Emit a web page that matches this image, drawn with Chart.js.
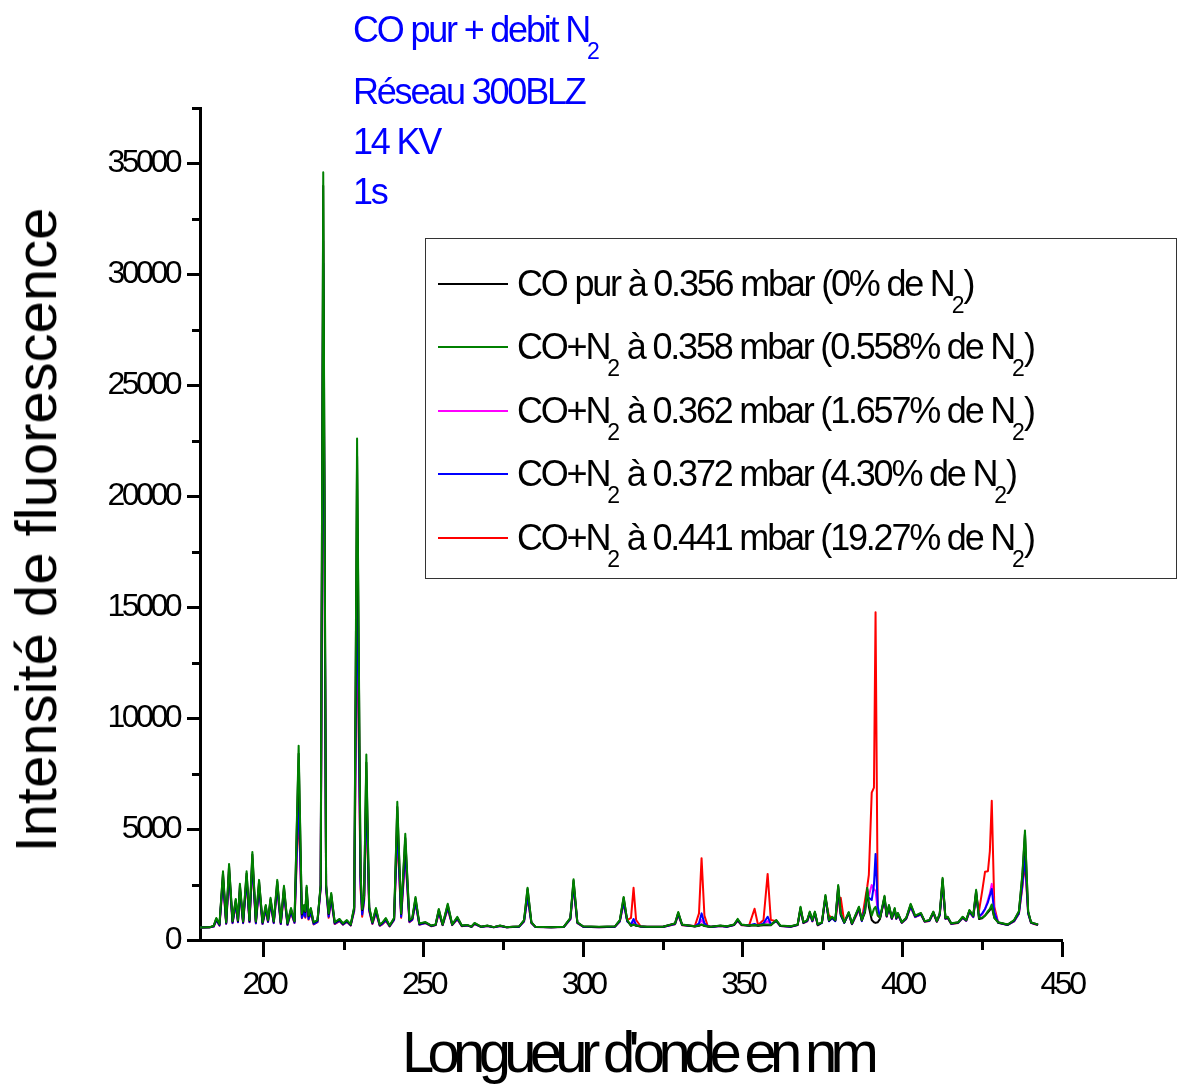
<!DOCTYPE html>
<html>
<head>
<meta charset="utf-8">
<script src="https://cdn.jsdelivr.net/npm/chart.js@4.4.1/dist/chart.umd.min.js"></script>
<style>
  body { margin: 0; background: #fff; }
  #wrap { position: relative; width: 1180px; height: 1086px; overflow: hidden; font-family: "Liberation Sans", Arial, sans-serif; }
  canvas { position: absolute; left: 0; top: 0; }
  .note { position: absolute; left: 353px; color: #0000ff; font-size: 36px; line-height: 36px; letter-spacing: -2.2px; white-space: nowrap; }
  .sub { display: inline-block; font-size: 23px; vertical-align: -17px; letter-spacing: 0; margin-left: -2px; margin-right: -1px; }
  #legend { position: absolute; left: 425px; top: 238px; width: 752px; height: 341px; border: 1.5px solid #333; box-sizing: border-box; }
  .row { position: absolute; left: 0; height: 40px; }
  .row .ln { position: absolute; left: 12px; top: 19px; width: 70px; height: 2px; }
  .row .tx { position: absolute; left: 91px; top: 2px; font-size: 36px; line-height: 36px; letter-spacing: -2.2px; white-space: nowrap; color: #000; }
  #xtitle { position: absolute; left: 402px; top: 1023px; font-size: 58px; line-height: 58px; letter-spacing: -6.7px; white-space: nowrap; }
  #ytitle { position: absolute; left: 36px; top: 530px; font-size: 58px; line-height: 58px; white-space: nowrap; transform: translate(-50%, -50%) rotate(-90deg); }
</style>
</head>
<body>
<div id="wrap">
  <canvas id="chart" width="1180" height="1086"></canvas>
  <div class="note" style="top:12px">CO pur + debit N<span class="sub">2</span></div>
  <div class="note" style="top:74px">Réseau 300BLZ</div>
  <div class="note" style="top:124px">14 KV</div>
  <div class="note" style="top:174px">1s</div>
  <div id="legend"></div>
  <div id="xtitle">Longueur d'onde en nm</div>
  <div id="ytitle">Intensité de fluorescence</div>
</div>
<script>
const wavelengths = [
  180, 183, 184.3, 185.1, 186.1, 187.2, 188.2, 189.1, 190.2, 191.2, 191.9, 192.5, 193.5, 194.6, 195.5, 196.4, 197.5, 198.5, 199.6, 200.6,
  201.3, 202.1, 203.1, 204.2, 205.3, 206.3, 207.4, 208.5, 209.6, 210.9, 211.9, 212.6, 213.0, 213.4, 214.0, 214.7, 215.6, 216.8, 217.8, 218.6,
  219.5, 220.3, 221.1, 222.2, 223.7, 224.8, 226.0, 227.2, 228.3, 229.2, 230.3, 230.8, 231.4, 232.1, 233.0, 234.0, 235.1, 236.3, 237.2, 238.2,
  239.4, 240.8, 241.8, 243.0, 244.3, 245.6, 246.5, 247.5, 248.7, 250.6, 252.5, 253.8, 254.8, 256.0, 257.6, 259.0, 260.6, 262.0, 263.7, 265.0,
  266.0, 268.0, 270.0, 272.0, 274.0, 276.0, 278.0, 280.0, 281.5, 282.6, 283.8, 285.0, 290.0, 294.0, 296.0, 297.0, 298.2, 300.0, 305.0, 310.0,
  311.5, 312.7, 313.8, 315.0, 315.8, 316.6, 318.0, 320.0, 325.0, 328.8, 329.8, 331.0, 335.0, 336.3, 337.1, 338.0, 339.0, 340.0, 343.0, 345.0,
  347.3, 348.4, 349.6, 352.0, 353.7, 354.8, 356.5, 357.8, 358.8, 360.5, 361.8, 365.0, 367.2, 368.1, 369.0, 370.2, 371.0, 371.8, 372.6, 373.5,
  374.8, 375.9, 377.0, 378.0, 379.0, 379.9, 380.7, 381.8, 383.2, 384.2, 386.4, 387.3, 388.3, 389.0, 389.5, 390.4, 391.1, 391.6, 392.3, 393.0,
  394.4, 395.1, 395.8, 396.7, 397.6, 398.1, 398.6, 399.8, 401.2, 402.6, 404.0, 405.8, 407.0, 408.5, 409.7, 410.8, 411.7, 412.6, 413.5, 414.2,
  415.3, 417.5, 418.9, 420.0, 421.0, 422.2, 423.1, 424.0, 425.0, 425.9, 426.8, 427.4, 428.0, 428.8, 430.0, 433.0, 435.0, 436.5, 437.6, 438.4,
  439.4, 440.3, 441.3, 442.5
];

// CO pur à 0.356 mbar (0% de N2)
const coPur = [
  560, 570, 640, 960, 700, 3000, 780, 3330, 820, 1800, 860, 2450, 820, 3000, 860, 3850, 820, 2630, 780, 1530,
  870, 1840, 820, 2630, 780, 2370, 730, 1400, 830, 8400, 1150, 1530, 1260, 2370, 1070, 1400, 780, 870, 2450, 34000,
  2450, 1170, 2060, 780, 920, 730, 870, 680, 1450, 21800, 2900, 1350, 1950, 8000, 1450, 780, 1400, 680, 780, 960,
  640, 970, 6000, 1170, 4600, 870, 970, 1880, 730, 790, 640, 690, 1360, 690, 1580, 690, 1010, 640, 670, 600,
  750, 600, 640, 580, 640, 580, 600, 610, 880, 2300, 790, 600, 580, 600, 980, 2680, 790, 610, 590, 610,
  880, 1900, 880, 640, 690, 640, 610, 600, 600, 740, 1230, 690, 610, 640, 690, 630, 610, 600, 640, 610,
  690, 920, 690, 640, 660, 640, 660, 680, 660, 880, 640, 610, 690, 1450, 780, 880, 1250, 880, 1250, 680,
  780, 1980, 870, 1020, 880, 2420, 1170, 780, 1230, 730, 1470, 880, 1250, 2300, 1500, 900, 800, 770, 800, 950,
  1950, 1080, 1550, 980, 1400, 980, 1200, 790, 980, 1600, 1080, 1200, 840, 890, 1260, 840, 1180, 2750, 980, 1030,
  740, 790, 1030, 890, 1330, 1080, 2200, 950, 980, 1100, 1250, 1350, 1500, 1000, 790, 690, 880, 1270, 2900, 4800,
  1270, 790, 740, 690
];

// CO+N2 à 0.358 mbar (0.558% de N2)
const n2_0558 = [
  560, 570, 640, 990, 720, 3100, 800, 3430, 850, 1850, 900, 2530, 850, 3100, 900, 3970, 850, 2710, 800, 1580,
  900, 1900, 850, 2710, 800, 2440, 750, 1440, 850, 8760, 1200, 1580, 1300, 2440, 1100, 1440, 800, 900, 2500, 34600,
  2500, 1200, 2120, 800, 950, 750, 900, 700, 1500, 22600, 3000, 1400, 2000, 8360, 1500, 800, 1440, 700, 800, 990,
  650, 1000, 6230, 1200, 4790, 900, 1000, 1940, 750, 810, 650, 700, 1400, 700, 1630, 700, 1040, 650, 680, 600,
  770, 600, 650, 580, 650, 580, 600, 620, 900, 2360, 800, 600, 580, 600, 1000, 2740, 800, 620, 600, 620,
  900, 1940, 900, 650, 700, 650, 620, 600, 600, 750, 1260, 700, 620, 650, 700, 640, 620, 600, 650, 620,
  700, 950, 700, 650, 680, 650, 700, 700, 680, 900, 650, 620, 700, 1500, 800, 900, 1280, 900, 1280, 700,
  800, 2030, 900, 1050, 900, 2480, 1200, 800, 1260, 750, 1500, 900, 1300, 2350, 1700, 1100, 1400, 1500, 1100, 1000,
  1990, 1100, 1580, 1000, 1440, 1000, 1220, 800, 1000, 1630, 1100, 1220, 850, 900, 1280, 850, 1200, 2800, 1000, 1050,
  750, 800, 1050, 900, 1350, 1100, 2260, 1000, 1000, 1100, 1300, 1400, 1600, 1000, 800, 700, 900, 1300, 3000, 4940,
  1300, 800, 750, 700
];

// CO+N2 à 0.362 mbar (1.657% de N2)
const n2_1657 = [
  560, 570, 620, 930, 680, 2850, 760, 3150, 800, 1700, 840, 2330, 800, 2850, 840, 3650, 800, 2490, 760, 1450,
  850, 1750, 800, 2490, 760, 2240, 710, 1320, 800, 7000, 1050, 1400, 1150, 2200, 1000, 1300, 750, 850, 2400, 31500,
  2400, 1100, 1950, 760, 900, 720, 850, 670, 1400, 18500, 2700, 1250, 1850, 7000, 1400, 760, 1320, 670, 760, 920,
  630, 950, 5300, 1100, 4200, 850, 950, 1780, 720, 780, 640, 690, 1300, 690, 1500, 690, 980, 640, 670, 600,
  740, 600, 640, 580, 640, 580, 600, 610, 860, 2100, 780, 600, 580, 600, 960, 2550, 780, 610, 590, 610,
  860, 1800, 860, 680, 800, 660, 610, 600, 600, 730, 1200, 690, 620, 700, 900, 700, 620, 600, 640, 610,
  690, 900, 690, 650, 700, 650, 720, 850, 700, 870, 640, 610, 690, 1420, 780, 870, 1220, 870, 1220, 680,
  780, 1950, 870, 1000, 870, 2350, 1150, 780, 1220, 730, 1450, 870, 1400, 2100, 2000, 2480, 2300, 2200, 1300, 1000,
  1900, 1080, 1520, 980, 1380, 980, 1180, 790, 980, 1550, 1060, 1180, 840, 880, 1240, 840, 1150, 2650, 980, 1020,
  740, 790, 1020, 880, 1300, 1060, 2150, 1050, 1150, 1400, 1800, 2100, 2530, 1300, 790, 690, 870, 1250, 2700, 4000,
  1250, 790, 740, 690
];

// CO+N2 à 0.372 mbar (4.30% de N2)
const n2_430 = [
  560, 570, 610, 900, 660, 2730, 740, 3020, 770, 1630, 810, 2230, 770, 2730, 810, 3490, 760, 2380, 730, 1390,
  820, 1670, 770, 2380, 730, 2150, 690, 1270, 780, 6550, 1000, 1300, 1050, 2100, 950, 1250, 720, 820, 2350, 30500,
  2350, 1050, 1870, 740, 870, 700, 830, 660, 1350, 16800, 2500, 1150, 1800, 6800, 1350, 740, 1270, 650, 740, 890,
  620, 920, 5100, 1050, 4000, 820, 920, 1700, 700, 770, 630, 680, 1250, 680, 1450, 680, 950, 630, 660, 590,
  730, 590, 630, 570, 630, 570, 590, 600, 840, 1960, 770, 590, 570, 590, 940, 2450, 770, 600, 580, 600,
  840, 1700, 840, 700, 950, 680, 610, 590, 590, 720, 1150, 680, 620, 750, 1200, 750, 620, 590, 630, 600,
  680, 880, 680, 650, 720, 650, 750, 1050, 720, 850, 630, 600, 680, 1380, 770, 850, 1200, 850, 1200, 670,
  770, 1900, 850, 980, 850, 2250, 1100, 770, 1200, 720, 1400, 850, 1450, 2000, 1900, 1800, 2500, 3880, 1500, 1000,
  1850, 1060, 1480, 960, 1350, 960, 1160, 780, 960, 1500, 1040, 1160, 830, 870, 1220, 830, 1120, 2550, 960, 1000,
  730, 780, 1000, 870, 1280, 1040, 2050, 1050, 1200, 1400, 1700, 2000, 2300, 1250, 780, 680, 850, 1200, 2500, 3760,
  1200, 780, 730, 680
];

// CO+N2 à 0.441 mbar (19.27% de N2)
const n2_1927 = [
  560, 570, 600, 880, 650, 2640, 730, 2920, 760, 1570, 800, 2150, 760, 2640, 800, 3370, 750, 2300, 720, 1340,
  810, 1620, 760, 2300, 720, 2070, 680, 1220, 770, 6000, 980, 1250, 1000, 2000, 920, 1200, 700, 800, 2300, 29000,
  2300, 1000, 1800, 720, 850, 690, 810, 650, 1300, 15000, 2300, 1050, 1750, 6300, 1300, 720, 1220, 640, 720, 860,
  610, 900, 4800, 1000, 3800, 800, 900, 1650, 690, 760, 620, 670, 1200, 670, 1400, 670, 930, 620, 650, 590,
  720, 590, 630, 570, 630, 570, 590, 600, 830, 1900, 760, 590, 570, 590, 930, 2400, 760, 600, 580, 600,
  830, 1650, 900, 1000, 2350, 900, 620, 590, 590, 710, 1120, 670, 630, 1200, 3690, 1100, 640, 590, 630, 600,
  670, 860, 670, 660, 1410, 680, 900, 2980, 900, 850, 630, 600, 670, 1350, 760, 840, 1180, 840, 1180, 660,
  800, 1850, 1100, 1000, 900, 1700, 1900, 800, 1180, 710, 1350, 900, 1800, 2400, 2940, 6640, 6870, 14770, 1100, 1000,
  1800, 1050, 1450, 950, 1330, 950, 1150, 770, 950, 1480, 1030, 1150, 820, 860, 1200, 820, 1100, 2500, 950, 990,
  720, 770, 990, 860, 1260, 1030, 2000, 1300, 2200, 3080, 3100, 4000, 6280, 1500, 780, 680, 840, 1180, 2400, 3500,
  1180, 770, 720, 670
];

const xTickValues = [200, 250, 300, 350, 400, 450];
const xMinorValues = [225, 275, 325, 375, 425];
const yTickValues = [0, 5000, 10000, 15000, 20000, 25000, 30000, 35000];
const yMinorValues = [2500, 7500, 12500, 17500, 22500, 27500, 32500, 37500];

const seriesLabels = [
  'CO pur à 0.356 mbar (0% de N<span class="sub">2</span>)',
  'CO+N<span class="sub">2</span> à 0.358 mbar (0.558% de N<span class="sub">2</span>)',
  'CO+N<span class="sub">2</span> à 0.362 mbar (1.657% de N<span class="sub">2</span>)',
  'CO+N<span class="sub">2</span> à 0.372 mbar (4.30% de N<span class="sub">2</span>)',
  'CO+N<span class="sub">2</span> à 0.441 mbar (19.27% de N<span class="sub">2</span>)'
];
const seriesColors = ['#000000', '#008000', '#ff00ff', '#0000ff', '#ff0000'];
const seriesData = [coPur, n2_0558, n2_1657, n2_430, n2_1927];
const drawOrder = [1, 0, 3, 2, 4]; // green on top, red underneath

// legend with subscripts, built as html
const legendRowTops = [25, 88, 152, 215, 279];
const legendBox = document.getElementById('legend');
seriesLabels.forEach((label, i) => {
  const row = document.createElement('div');
  row.className = 'row';
  row.style.top = legendRowTops[i] + 'px';
  row.innerHTML = '<div class="ln" style="background:' + seriesColors[i] + '"></div>' +
                  '<div class="tx">' + label + '</div>';
  legendBox.appendChild(row);
});

const minorTicks = {
  id: 'minorTicks',
  beforeDraw(chart) {
    chart.ctx.letterSpacing = '-3.5px';
  },
  afterDraw(chart) {
    const ctx = chart.ctx;
    const xs = chart.scales.x, ys = chart.scales.y;
    ctx.save();
    ctx.letterSpacing = '0px';
    ctx.strokeStyle = '#000';
    ctx.lineWidth = 3;
    ctx.beginPath();
    xMinorValues.forEach(v => {
      const px = Math.round(xs.getPixelForValue(v)) + 0.5;
      ctx.moveTo(px, xs.top);
      ctx.lineTo(px, xs.top + 10);
    });
    yMinorValues.forEach(v => {
      const py = Math.round(ys.getPixelForValue(v)) + 0.5;
      ctx.moveTo(ys.right, py);
      ctx.lineTo(ys.right - 8, py);
    });
    ctx.stroke();
    ctx.restore();
  }
};

new Chart(document.getElementById('chart').getContext('2d'), {
  type: 'line',
  data: {
    datasets: seriesData.map((vals, i) => ({
      label: seriesLabels[i],
      data: wavelengths.map((w, j) => ({ x: w, y: vals[j] })),
      borderColor: seriesColors[i],
      borderWidth: 2,
      borderJoinStyle: 'round',
      pointRadius: 0,
      fill: false,
      tension: 0,
      order: drawOrder[i]
    }))
  },
  options: {
    responsive: false,
    devicePixelRatio: 1,
    animation: false,
    layout: { padding: { top: 108, right: 118, left: 0, bottom: 0 } },
    plugins: { legend: { display: false }, tooltip: { enabled: false } },
    scales: {
      x: {
        type: 'linear',
        min: 180,
        max: 450,
        afterFit(scale) { scale.height = 146; },
        afterBuildTicks(scale) { scale.ticks = xTickValues.map(v => ({ value: v })); },
        grid: { drawOnChartArea: false, drawTicks: true, tickLength: 17, tickWidth: 3, tickColor: '#000' },
        border: { display: true, width: 3, color: '#000' },
        ticks: {
          color: '#000',
          padding: 9,
          maxRotation: 0,
          font: { family: 'Liberation Sans, Arial, sans-serif', size: 32 },
          callback: v => String(v)
        }
      },
      y: {
        type: 'linear',
        min: 0,
        max: 37500,
        afterFit(scale) { scale.width = 200; },
        afterBuildTicks(scale) { scale.ticks = yTickValues.map(v => ({ value: v })); },
        grid: { drawOnChartArea: false, drawTicks: true, tickLength: 13, tickWidth: 3, tickColor: '#000' },
        border: { display: true, width: 3, color: '#000' },
        ticks: {
          color: '#000',
          padding: 8,
          font: { family: 'Liberation Sans, Arial, sans-serif', size: 32 },
          callback: v => String(v)
        }
      }
    }
  },
  plugins: [minorTicks]
});
</script>
</body>
</html>
